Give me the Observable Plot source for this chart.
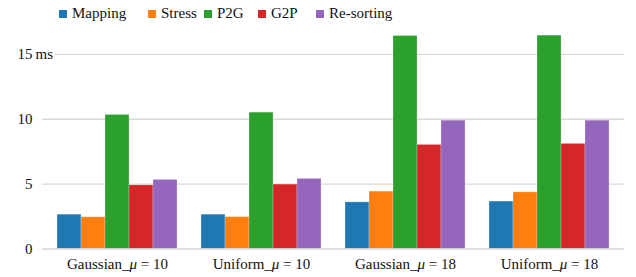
<!DOCTYPE html>
<html>
<head>
<meta charset="utf-8">
<script src="https://cdn.jsdelivr.net/npm/d3@7"></script>
<script src="https://cdn.jsdelivr.net/npm/@observablehq/plot@0.6"></script>
</head>
<body style="margin:0;background:#fff">
<div id="wrap" style="position:relative;width:636px;height:277px;font-family:'Liberation Serif'">
  <div id="legend" style="position:absolute;left:0;top:0;width:636px;height:26px;font-size:15px;color:#111;font-family:'Liberation Serif'"></div>
</div>
<script>
const groups = ["Gaussian_μ = 10", "Uniform_μ = 10", "Gaussian_μ = 18", "Uniform_μ = 18"];
const series = ["Mapping", "Stress", "P2G", "G2P", "Re-sorting"];
const colors = ["#1f77b4", "#ff7f0e", "#2ca02c", "#d62728", "#9467bd"];
const mapping   = [2.64, 2.64, 3.59, 3.65];
const stress    = [2.44, 2.45, 4.42, 4.36];
const p2g       = [10.33, 10.51, 16.42, 16.45];
const g2p       = [4.90, 4.96, 8.02, 8.10];
const resorting = [5.32, 5.40, 9.89, 9.89];
const yTicks = [0, 5, 10, 15];
const legendX = [59, 148, 204, 258, 316];

const FONT = "'Liberation Serif'";
const values = [mapping, stress, p2g, g2p, resorting];
const data = [];
groups.forEach((g, gi) => series.forEach((s, si) => data.push({group: g, series: s, value: values[si][gi], key: g + "|" + s})));

const domain = [];
groups.forEach((g, gi) => {
  series.forEach(s => domain.push(g + "|" + s));
  if (gi < groups.length - 1) domain.push("gap" + gi);
});
const centerKeys = groups.map(g => g + "|" + series[2]);

const chart = Plot.plot({
  width: 636,
  height: 277,
  marginLeft: 42,
  marginRight: 12,
  marginTop: 28,
  marginBottom: 28.6,
  style: { fontFamily: FONT, fontSize: "15px", color: "#111", background: "transparent", display: "block" },
  x: { type: "band", domain, paddingInner: 0, paddingOuter: 0.5 },
  y: { domain: [0, 17] },
  color: { domain: series, range: colors },
  marks: [
    Plot.gridY(yTicks.filter(d => d > 0), { stroke: "#d9d9d9", strokeOpacity: 1, strokeWidth: 1.3 }),
    Plot.barY(data, { x: "key", y: "value", fill: "series", stroke: "white", strokeOpacity: 0.3, strokeWidth: 0.8 }),
    Plot.ruleY([0], { stroke: "#d4d4d4", strokeWidth: 1.5 }),
    Plot.text(["ms"], { y: () => 15, frameAnchor: "left", textAnchor: "start", dx: -7, text: d => d, fill: "#111", stroke: "white", strokeWidth: 5, fontSize: 15 }),
    Plot.axisY({ ticks: yTicks, tickSize: 0, tickPadding: 10, label: null, fontSize: 15 }),
    Plot.axisX({ ticks: centerKeys, tickFormat: k => k.split("|")[0], tickSize: 0, tickPadding: 9, label: null, fontSize: 15 })
  ]
});

// italic μ in tick labels
d3.select(chart).selectAll("text").each(function() {
  const t = this.textContent;
  if (t.includes("μ") && this.children.length === 0) {
    const parts = t.split("μ");
    const sel = d3.select(this);
    sel.text(null);
    parts.forEach((p, i) => {
      if (i > 0) sel.append("tspan").attr("font-style", "italic").text("μ");
      sel.append("tspan").text(p);
    });
  }
});

const wrap = document.getElementById("wrap");
wrap.insertBefore(chart, wrap.firstChild);

const legend = document.getElementById("legend");
series.forEach((s, i) => {
  const it = document.createElement("div");
  it.style.cssText = "position:absolute;top:0;line-height:26px;white-space:nowrap;font-family:'Liberation Serif';left:" + legendX[i] + "px";
  const sw = document.createElement("span");
  sw.style.cssText = "display:inline-block;width:8px;height:8px;margin-right:5px;background:" + colors[i];
  it.appendChild(sw);
  it.appendChild(document.createTextNode(s));
  legend.appendChild(it);
});
</script>
</body>
</html>
